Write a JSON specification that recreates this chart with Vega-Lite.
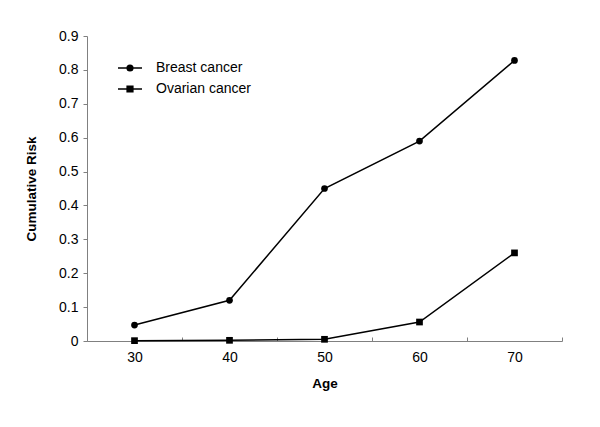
{
  "$schema": "https://vega.github.io/schema/vega-lite/v6.json",
  "width": 475,
  "height": 305,
  "autosize": {"type": "none"},
  "padding": {"left": 87, "top": 36, "right": 38, "bottom": 86},
  "background": "white",
  "config": {
    "view": {"stroke": null},
    "font": "Liberation Sans",
    "axis": {"grid": false, "domainColor": "#808080", "tickColor": "#808080", "labelColor": "black", "titleColor": "black", "labelFont": "Liberation Sans", "titleFont": "Liberation Sans", "labelFontSize": 14, "titleFontSize": 13.5, "titleFontWeight": "bold"}
  },
  "data": {"values": [
    {"age": 30, "risk": 0.047, "series": "Breast cancer"},
    {"age": 40, "risk": 0.12, "series": "Breast cancer"},
    {"age": 50, "risk": 0.45, "series": "Breast cancer"},
    {"age": 60, "risk": 0.59, "series": "Breast cancer"},
    {"age": 70, "risk": 0.828, "series": "Breast cancer"},
    {"age": 30, "risk": 0.001, "series": "Ovarian cancer"},
    {"age": 40, "risk": 0.002, "series": "Ovarian cancer"},
    {"age": 50, "risk": 0.005, "series": "Ovarian cancer"},
    {"age": 60, "risk": 0.056, "series": "Ovarian cancer"},
    {"age": 70, "risk": 0.26, "series": "Ovarian cancer"}
  ]},
  "encoding": {
    "x": {"field": "age", "type": "quantitative", "scale": {"domain": [25, 75], "nice": false, "zero": false},
      "axis": {"title": "Age", "values": [25, 35, 45, 55, 65, 75], "labelExpr": "datum.value < 75 ? format(datum.value + 5, 'd') : ''", "labelOffset": 47.5, "labelFlush": false, "labelOverlap": false, "tickSize": -4, "labelPadding": 13, "titlePadding": 12}},
    "y": {"field": "risk", "type": "quantitative", "scale": {"domain": [0, 0.9], "nice": false},
      "axis": {"title": "Cumulative Risk", "values": [0, 0.1, 0.2, 0.3, 0.4, 0.5, 0.6, 0.7, 0.8, 0.9], "format": ".1~f", "tickSize": 4, "labelPadding": 5, "titlePadding": 20}}
  },
  "layer": [
    {"mark": {"type": "line", "color": "black", "strokeWidth": 1.5}, "encoding": {"detail": {"field": "series"}}},
    {"mark": {"type": "point", "filled": true, "color": "black", "opacity": 1, "size": 45},
      "encoding": {"shape": {"field": "series", "type": "nominal", "scale": {"domain": ["Breast cancer", "Ovarian cancer"], "range": ["circle", "square"]}, "legend": null}}},
    {"mark": {"type": "point", "filled": false, "stroke": "black", "strokeWidth": 1.5, "opacity": 0, "size": 36},
      "encoding": {"shape": {"field": "series", "type": "nominal", "scale": {"domain": ["Breast cancer", "Ovarian cancer"], "range": [
          "M-4,0L4,0M-0.95,0A0.95,0.95 0 1,0 0.95,0A0.95,0.95 0 1,0 -0.95,0ZM-0.6,0A0.6,0.6 0 1,0 0.6,0A0.6,0.6 0 1,0 -0.6,0ZM-0.25,0A0.25,0.25 0 1,0 0.25,0A0.25,0.25 0 1,0 -0.25,0Z",
          "M-4,0L4,0M-0.95,-0.95L0.95,-0.95L0.95,0.95L-0.95,0.95ZM-0.6,-0.6L0.6,-0.6L0.6,0.6L-0.6,0.6ZM-0.25,-0.25L0.25,-0.25L0.25,0.25L-0.25,0.25Z"]},
        "legend": {"title": null, "orient": "none", "legendX": 36, "legendY": 25, "padding": 0, "symbolOpacity": 1, "symbolStrokeColor": "black", "symbolStrokeWidth": 1.5, "symbolSize": 36, "labelFont": "Liberation Sans", "labelFontSize": 14, "labelColor": "black", "labelOffset": 19, "rowPadding": 7,
          "encode": {"symbols": {"update": {"stroke": {"value": "black"}, "strokeWidth": {"value": 1.5}, "opacity": {"value": 1}, "strokeOpacity": {"value": 1}}}}}}}}
  ],
  "resolve": {"scale": {"shape": "independent"}}
}
